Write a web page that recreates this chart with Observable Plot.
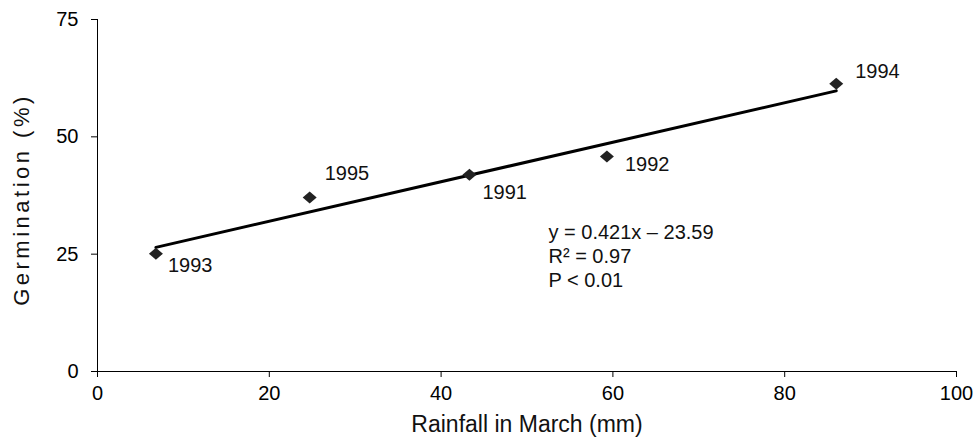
<!DOCTYPE html>
<html>
<head>
<meta charset="utf-8">
<script src="https://cdn.jsdelivr.net/npm/d3@7"></script>
<script src="https://cdn.jsdelivr.net/npm/@observablehq/plot@0.6"></script>
<style>
  html, body { margin: 0; padding: 0; background: #fff; }
  #chart svg { display: block; }
</style>
</head>
<body>
<div id="chart"></div>
<script>
// ---- data ----
const years = [1991, 1992, 1993, 1994, 1995];
const rainfall = [43.3, 59.3, 6.8, 86.0, 24.7];      // mm, rainfall in March
const germination = [41.9, 45.8, 25.1, 61.3, 37.1];  // %
const slope = [0.421];
const intercept = [23.59];
const equationLines = ["y = 0.421x – 23.59", "R² = 0.97", "P < 0.01"];
const xTicks = [0, 20, 40, 60, 80, 100];
const yTicks = [0, 25, 50, 75];
const xTitle = "Rainfall in March (mm)";
const yTitle = "Germination (%)";

// ---- derived table ----
const points = years.map((year, i) => ({year, rain: rainfall[i], germ: germination[i]}));
const xExtent = d3.extent(rainfall);
const fitLine = xExtent.map(x => ({rain: x, germ: slope[0] * x + intercept[0]}));

// label offsets (layout only)
const labelOffset = {1991: [13, 18], 1992: [18, 8], 1993: [12, 12], 1994: [19, -12], 1995: [15, -24]};

const diamond = {
  draw(ctx) {
    const w = 7, h = 6;
    ctx.moveTo(0, -h); ctx.lineTo(w, 0); ctx.lineTo(0, h); ctx.lineTo(-w, 0); ctx.closePath();
  }
};

const font = "'Liberation Sans', Arial, Helvetica, sans-serif";

const svg = Plot.plot({
  width: 980,
  height: 440,
  marginLeft: 97,
  marginRight: 24,
  marginTop: 19,
  marginBottom: 69,
  style: {fontFamily: font, fontSize: "20px", color: "#000", background: "#fff", overflow: "visible"},
  x: {domain: [0, 100]},
  y: {domain: [0, 75]},
  marks: [
    Plot.axisX({ticks: xTicks, tickSize: 6, tickPadding: 8, label: null, fontSize: 20, stroke: "#000"}),
    Plot.axisY({ticks: yTicks, tickSize: 6, tickPadding: 13, label: null, fontSize: 20, stroke: "#000"}),
    Plot.ruleX([0], {y1: 0, y2: 75, stroke: "#000", strokeWidth: 1}),
    Plot.ruleY([0], {x1: 0, x2: 100, stroke: "#000", strokeWidth: 1}),
    Plot.line(fitLine, {x: "rain", y: "germ", stroke: "#000", strokeWidth: 3}),
    Plot.dot(points, {x: "rain", y: "germ", symbol: diamond, fill: "#222", stroke: "none", r: 6}),
    ...points.map(p => Plot.text([p], {
      x: "rain", y: "germ", text: d => String(d.year),
      dx: labelOffset[p.year][0], dy: labelOffset[p.year][1],
      textAnchor: "start", lineAnchor: "middle", fontSize: 20, fill: "#111"
    })),
    Plot.text([equationLines.join("\n")], {
      x: 52.5, y: 31.8, textAnchor: "start", lineAnchor: "top",
      lineHeight: 1.2, fontSize: 20, fill: "#111"
    }),
    Plot.text([xTitle], {frameAnchor: "bottom", dy: 53, lineAnchor: "middle", fontSize: 23, fill: "#111"}),
    Plot.text([yTitle], {frameAnchor: "left", dx: -76, dy: 4, rotate: -90, textAnchor: "middle", lineAnchor: "middle", fontSize: 22, fill: "#111"})
  ]
});

d3.select(svg).selectAll("text")
  .filter(function() { return this.textContent === yTitle; })
  .attr("letter-spacing", "3.5px");

document.getElementById("chart").appendChild(svg);
</script>
</body>
</html>
